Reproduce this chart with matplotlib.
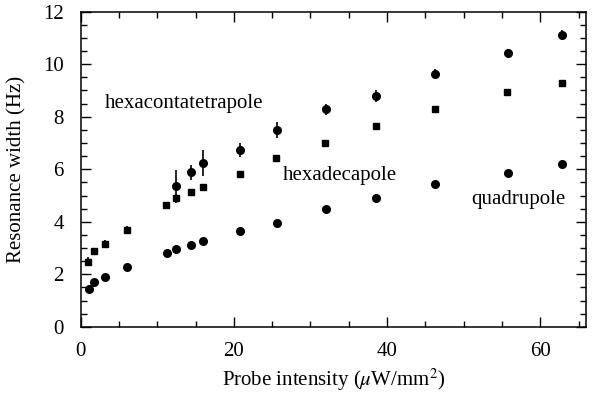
from matplotlib import pyplot as plt
import numpy as np
from matplotlib.ticker import MultipleLocator

plt.rcParams['font.family'] = ['Liberation Serif', 'DejaVu Serif']
plt.rcParams['mathtext.fontset'] = 'stix'

# quadrupole (lower circles)
x_quad = [1.1, 1.8, 3.2, 6.1, 11.3, 12.5, 14.4, 16.0, 20.8, 25.6, 32.0, 38.6, 46.2, 55.8, 62.8]
y_quad = [1.43, 1.71, 1.89, 2.26, 2.80, 2.95, 3.11, 3.26, 3.65, 3.96, 4.47, 4.92, 5.44, 5.87, 6.19]

# hexadecapole (squares)
x_hexa = [0.95, 1.75, 3.2, 6.05, 11.1, 12.4, 14.4, 16.0, 20.8, 25.5, 31.9, 38.5, 46.2, 55.7, 62.8]
y_hexa = [2.48, 2.90, 3.16, 3.68, 4.65, 4.90, 5.13, 5.33, 5.82, 6.44, 7.01, 7.66, 8.31, 8.95, 9.30]
e_hexa = [0.17, 0.12, 0.15, 0.15, 0, 0.17, 0, 0, 0, 0, 0, 0, 0, 0, 0]

# hexacontatetrapole (upper circles with error bars)
x_h64 = [12.5, 14.4, 16.0, 20.8, 25.6, 32.0, 38.6, 46.2, 55.8, 62.8]
y_h64 = [5.37, 5.88, 6.25, 6.73, 7.49, 8.28, 8.80, 9.63, 10.41, 11.11]
e_h64 = [0.6, 0.3, 0.5, 0.28, 0.3, 0.22, 0.22, 0.2, 0.18, 0.18]

fig = plt.figure(figsize=(5.97, 4.03), dpi=100)
ax = fig.add_axes([0.135, 0.189, 0.847, 0.782])

ax.errorbar(x_hexa, y_hexa, yerr=e_hexa, fmt='s', color='k', ms=4.5, elinewidth=1.2, capsize=0)
ax.errorbar(x_h64, y_h64, yerr=e_h64, fmt='o', color='k', ms=5.5, elinewidth=1.2, capsize=0)
ax.plot(x_quad, y_quad, 'o', color='k', ms=5.5)

ax.text(3.2, 8.52, 'hexacontatetrapole', fontsize=15, va='center')
ax.text(26.4, 5.78, 'hexadecapole', fontsize=15, va='center')
ax.text(51.0, 4.83, 'quadrupole', fontsize=15, va='center')

ax.set_xlim(0, 66)
ax.set_ylim(0, 12)
ax.xaxis.set_major_locator(MultipleLocator(20))
ax.xaxis.set_minor_locator(MultipleLocator(5))
ax.yaxis.set_major_locator(MultipleLocator(2))
ax.yaxis.set_minor_locator(MultipleLocator(0.5))
ax.tick_params(which='both', direction='in', top=True, right=True, labelsize=15)
ax.tick_params(axis='x', pad=11)
ax.tick_params(axis='y', pad=12)
ax.tick_params(which='major', length=7, width=1)
ax.tick_params(which='minor', length=4, width=1)
for s in ax.spines.values():
    s.set_linewidth(1.1)

ax.set_xlabel(r'Probe intensity ($\mu$W/mm$^2$)', fontsize=15, labelpad=4)
ax.set_ylabel('Resonance width (Hz)', fontsize=15, labelpad=12)

fig.savefig('out.png', dpi=100)
